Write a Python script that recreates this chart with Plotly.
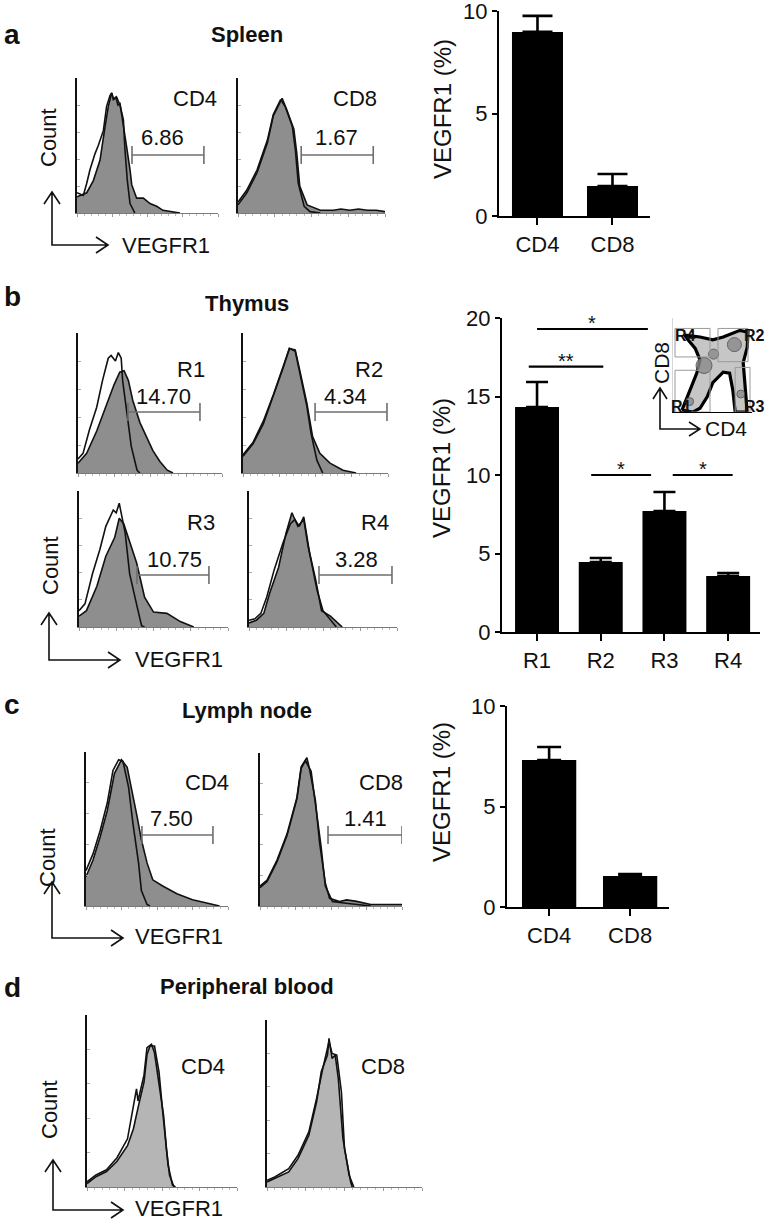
import plotly.graph_objects as go

W, H = 770, 1230
FONT = "Liberation Sans, Arial, Helvetica, sans-serif"
INK = "#111111"
FILL_DARK = "#8e8e8e"
FILL_LIGHT = "#b5b5b5"

# ---------------- bar chart data ----------------
spleen_cats = ["CD4", "CD8"]
spleen_vals = [8.98, 1.46]
spleen_err = [0.78, 0.59]

thymus_cats = ["R1", "R2", "R3", "R4"]
thymus_vals = [14.33, 4.46, 7.71, 3.57]
thymus_err = [1.59, 0.25, 1.21, 0.19]

ln_cats = ["CD4", "CD8"]
ln_vals = [7.31, 1.54]
ln_err = [0.65, 0.10]

# significance brackets on the thymus chart (category-index units)
sig_x0 = [0.0, -0.13, 0.85, 2.13]
sig_x1 = [1.74, 1.04, 1.79, 3.07]
sig_y = [19.3, 16.9, 10.0, 10.0]
sig_text = ["*", "**", "*", "*"]

# ---------------- histogram data (channel 0-100, count 0-100) ----------------
spl_cd4_xs = [0, 6.9, 11.6, 16.3, 19.9, 22.2, 24.6, 26, 27.5, 29, 30.5, 32.4, 35.2, 37.6, 38.8, 42.3, 47, 51.8, 56.5, 61, 66, 73]
spl_cd4_ys = [12, 15, 24, 39, 64, 79, 89, 84, 86, 80, 81, 69, 49, 32, 21, 11, 11, 7, 5, 2, 1, 0]
spl_cd4_xc = [0, 4.5, 6.9, 9.2, 12.8, 15.1, 18.7, 21, 23.4, 24.6, 25.8, 28, 30.5, 32.9, 34, 35.7, 37.6, 41]
spl_cd4_yc = [15, 13, 22, 32, 44, 50, 61, 79, 87, 89, 84, 86, 80, 69, 47, 24, 7, 0]

spl_cd8_xs = [0, 6, 13, 20, 24, 28, 30, 33, 38, 40, 42, 47, 51, 56, 65, 70, 76, 82, 88, 94, 100]
spl_cd8_ys = [6, 15, 30, 52, 72, 81, 85, 77, 62, 44, 20, 6, 4, 2, 2, 3, 2, 3, 2, 2, 1]
spl_cd8_xc = [0, 6, 13, 20, 24, 29, 32, 37, 39, 41, 45, 49, 56]
spl_cd8_yc = [8, 17, 32, 54, 73, 84, 79, 64, 47, 22, 5, 1, 0]

thy_r1_xs = [0, 6, 13, 20, 25, 29, 32, 35, 38, 43, 48, 52, 57, 62, 66]
thy_r1_ys = [7, 14, 30, 50, 63, 72, 73, 66, 52, 36, 25, 16, 8, 2, 0]
thy_r1_xc = [0, 3.5, 8, 13, 17, 21, 23, 26, 28, 30, 31, 34, 37, 41, 43]
thy_r1_yc = [10, 14, 31, 47, 66, 82, 84, 80, 86, 82, 66, 43, 19, 2, 0]

thy_r2_xs = [0, 7, 14, 21, 28, 32, 36, 39, 44, 48, 53, 60, 69, 78]
thy_r2_ys = [12, 21, 35, 55, 76, 89, 88, 74, 50, 26, 14, 7, 2, 0]
thy_r2_xc = [0, 7, 14, 21, 28, 32, 36, 39, 44, 47, 51, 55]
thy_r2_yc = [13, 22, 37, 56, 77, 89, 87, 72, 48, 28, 9, 0]

thy_r3_xs = [0, 5, 12, 18, 24, 27, 30, 33, 38.7, 44, 50, 59, 68, 77]
thy_r3_ys = [8, 12, 30, 52, 66, 80, 76, 66, 47, 22, 11, 10, 4, 0]
thy_r3_xc = [0, 4, 9, 14, 18, 23, 25, 27, 31, 34, 39, 42, 44]
thy_r3_yc = [12, 17, 39, 57, 74, 86, 84, 91, 69, 39, 15, 1, 0]

thy_r4_xs = [0, 5, 10, 14, 20, 25, 29, 33, 37, 40, 45, 49, 55, 60, 63]
thy_r4_ys = [3, 5, 10, 25, 44, 69, 84, 74, 79, 59, 35, 12, 8, 3, 0]
thy_r4_xc = [0, 4, 8, 12, 17, 23, 28, 31, 34, 37, 41, 46, 50, 57, 59]
thy_r4_yc = [5, 6, 10, 22, 42, 62, 76, 79, 74, 81, 54, 27, 12, 3, 0]

ln_cd4_xs = [0, 5, 10, 15, 20, 25, 29, 32, 36, 39, 43, 47, 54, 64, 75, 85, 94]
ln_cd4_ys = [19, 30, 45, 62, 86, 95, 90, 77, 58, 43, 28, 17, 13, 8, 4, 2, 0]
ln_cd4_xc = [0, 5, 10, 15, 19, 23, 26, 30, 33, 37, 39, 43, 45]
ln_cd4_yc = [23, 34, 49, 67, 88, 95, 94, 77, 54, 28, 10, 1, 0]

ln_cd8_xs = [0, 5, 12, 19, 26, 29, 33, 35, 39, 42, 46, 49, 56, 61, 68, 78, 87, 100]
ln_cd8_ys = [13, 17, 30, 47, 71, 91, 97, 89, 69, 41, 15, 5, 3, 4, 3, 1, 1, 1]
ln_cd8_xc = [0, 5, 12, 19, 26, 29, 32, 36, 39, 43, 46, 51, 59, 68, 78]
ln_cd8_yc = [12, 16, 29, 46, 70, 90, 95, 88, 67, 39, 13, 3, 2, 1, 0]

pb_cd4_xs = [0, 6, 13, 20, 27, 31, 34, 38, 40, 42, 45, 48, 50, 52, 54, 57, 59]
pb_cd4_ys = [2, 6, 9, 15, 24, 34, 46, 61, 77, 82, 82, 67, 48, 28, 13, 1, 0]
pb_cd4_xc = [0, 6, 13, 20, 27, 31, 33, 34, 38, 40, 43, 45, 48, 51, 53, 55, 58]
pb_cd4_yc = [3, 7, 10, 17, 28, 48, 57, 50, 65, 81, 83, 78, 61, 42, 22, 7, 0]

pb_cd8_xs = [0, 5, 14, 20, 27, 32, 35, 39, 40, 42, 44, 46, 49, 53, 56]
pb_cd8_ys = [3, 5, 9, 17, 31, 51, 69, 79, 89, 77, 79, 65, 29, 7, 0]
pb_cd8_xc = [0, 5, 14, 20, 27, 32, 36, 40, 42, 45, 48, 50, 54, 55]
pb_cd8_yc = [4, 6, 11, 19, 33, 53, 71, 87, 80, 79, 57, 23, 3, 0]

# gate statistics (label, low, high in channel units)
gate_text = ["6.86", "1.67", "14.70", "4.34", "10.75", "3.28", "7.50", "1.41"]
gate_lo = [39, 43, 34.7, 49.7, 38.9, 47.3, 39.4, 47.9]
gate_hi = [90, 92, 84.7, 99.3, 87.2, 96.6, 89.4, 100]

# inset CD4/CD8 contour outline, dense spots and gate boxes (0-100 units)
inset_u = [12.5, 22.5, 31, 35, 29, 20, 16, 35, 51, 64, 85, 95, 94, 89, 91, 94, 94, 79, 76, 72, 64, 51, 44, 35, 26, 12.5]
inset_v = [3, 24, 42, 56, 68, 77, 82, 80, 77, 80, 87, 85, 69, 53, 32, 11, 1, 1, 24, 42, 43, 32, 17, 5, 1, 3]
inset_spot_u = [78, 40, 52, 86, 22]
inset_spot_v = [72, 50, 62, 20, 12]
inset_spot_size = [14, 16, 10, 8, 8]
inset_gate_u0 = [3.75, 57.5, 3.75, 79]
inset_gate_u1 = [47.5, 95, 47.5, 97.5]
inset_gate_v0 = [59, 54, 1, 1]
inset_gate_v1 = [89, 89, 45, 48]

# ---------------------------------------------------------------
fig = go.Figure()
layout = {}
shapes = []
annotations = []


def axn(n):
    return ("x" if n == 1 else f"x{n}"), ("y" if n == 1 else f"y{n}")


def keyn(n):
    return ("xaxis" if n == 1 else f"xaxis{n}"), ("yaxis" if n == 1 else f"yaxis{n}")


def px(x):
    return x / W


def py(y):
    return 1 - y / H


def add_hist(n, box, xs, ys, xc, yc, fill, label, lab_uv, gate_i=None, gate_v=None, text_uv=None):
    xr, yr = axn(n)
    kx, ky = keyn(n)
    fig.add_trace(go.Scatter(x=xs, y=ys, xaxis=xr, yaxis=yr, mode="lines", fill="tozeroy",
                             fillcolor=fill, line=dict(color=INK, width=1.6),
                             hoverinfo="skip", showlegend=False))
    fig.add_trace(go.Scatter(x=xc, y=yc, xaxis=xr, yaxis=yr, mode="lines",
                             line=dict(color=INK, width=1.6),
                             hoverinfo="skip", showlegend=False))
    x0, x1, t, b = box
    layout[kx] = dict(domain=[px(x0), px(x1)], range=[0, 100], anchor=yr, automargin=False,
                      showline=True, linecolor="#7a7a7a", linewidth=1.2,
                      ticks="outside", ticklen=3, tickcolor="#9a9a9a", tickwidth=1, dtick=25,
                      minor=dict(dtick=5, ticklen=2, tickcolor="#bbbbbb", ticks="outside"),
                      showticklabels=False, showgrid=False, zeroline=False, fixedrange=True)
    layout[ky] = dict(domain=[py(b), py(t)], range=[0, 100], anchor=xr, automargin=False,
                      showline=True, linecolor=INK, linewidth=2.5,
                      ticks="inside", ticklen=3, tickcolor="#aaaaaa", dtick=20,
                      showticklabels=False, showgrid=False, zeroline=False, fixedrange=True)
    annotations.append(dict(xref=xr, yref=yr, x=lab_uv[0], y=lab_uv[1], text=label,
                            showarrow=False, font=dict(family=FONT, size=22, color=INK),
                            xanchor="center", yanchor="middle"))
    if gate_i is not None:
        lo, hi = gate_lo[gate_i], gate_hi[gate_i]
        gc = "#6e6e6e"
        shapes.append(dict(type="line", xref=xr, yref=yr, x0=lo, x1=hi, y0=gate_v, y1=gate_v,
                           line=dict(color=gc, width=1.6)))
        for xx in (lo, hi):
            shapes.append(dict(type="line", xref=xr, yref=yr, x0=xx, x1=xx,
                               ysizemode="pixel", yanchor=gate_v, y0=-9, y1=9,
                               line=dict(color=gc, width=1.6)))
        annotations.append(dict(xref=xr, yref=yr, x=text_uv[0], y=text_uv[1], text=gate_text[gate_i],
                                showarrow=False, font=dict(family=FONT, size=22, color=INK),
                                xanchor="center", yanchor="middle"))


def add_bar(n, box, cats, vals, err, ymax, dtick, xrange, bw, cap):
    xr, yr = axn(n)
    kx, ky = keyn(n)
    fig.add_trace(go.Bar(x=cats, y=vals, xaxis=xr, yaxis=yr, width=bw,
                         marker=dict(color="#000000", line=dict(width=0)),
                         error_y=dict(type="data", array=err, arrayminus=[0] * len(err),
                                      symmetric=False, color="#000000", thickness=2.6, width=cap),
                         hoverinfo="skip", showlegend=False))
    x0, x1, t, b = box
    layout[kx] = dict(domain=[px(x0), px(x1)], range=xrange, anchor=yr, type="category",
                      automargin=False, ticklabeloverflow="allow",
                      showline=True, linecolor="#000000", linewidth=2.2,
                      ticks="outside", ticklen=7, tickwidth=2, tickcolor="#000000",
                      tickfont=dict(family=FONT, size=22, color=INK),
                      showgrid=False, zeroline=False, fixedrange=True)
    layout[ky] = dict(domain=[py(b), py(t)], range=[0, ymax], anchor=xr, dtick=dtick,
                      automargin=False, ticklabeloverflow="allow",
                      showline=True, linecolor="#000000", linewidth=2.2,
                      ticks="outside", ticklen=5, tickwidth=2, tickcolor="#000000",
                      tickfont=dict(family=FONT, size=22, color=INK),
                      showgrid=False, zeroline=False, fixedrange=True)


# ----- panel a -----
add_hist(1, (77, 218, 78, 213), spl_cd4_xs, spl_cd4_ys, spl_cd4_xc, spl_cd4_yc, FILL_DARK,
         "CD4", (83.7, 85), 0, 43, (60.3, 56))
add_hist(2, (238, 385, 78, 213), spl_cd8_xs, spl_cd8_ys, spl_cd8_xc, spl_cd8_yc, FILL_DARK,
         "CD8", (79.6, 85), 1, 43, (67.3, 56))
add_bar(3, (499, 650, 11, 216), spleen_cats, spleen_vals, spleen_err, 10, 5, [-0.513, 1.5], 0.68, 15)

# ----- panel b -----
add_hist(4, (78, 222, 333, 473), thy_r1_xs, thy_r1_ys, thy_r1_xc, thy_r1_yc, FILL_DARK,
         "R1", (78.5, 73.6), 2, 43.6, (59.7, 54.3))
add_hist(5, (243, 388, 333, 473), thy_r2_xs, thy_r2_ys, thy_r2_xc, thy_r2_yc, FILL_DARK,
         "R2", (86.9, 73.6), 3, 43.6, (71, 54.3))
add_hist(6, (79, 228, 491, 627), thy_r3_xs, thy_r3_ys, thy_r3_xc, thy_r3_yc, FILL_DARK,
         "R3", (81.9, 77.2), 4, 38.2, (63.8, 50))
add_hist(7, (249, 397, 491, 627), thy_r4_xs, thy_r4_ys, thy_r4_xc, thy_r4_yc, FILL_DARK,
         "R4", (85.1, 77.2), 5, 38.2, (72.3, 50))
add_bar(8, (502, 760, 318, 632), thymus_cats, thymus_vals, thymus_err, 20, 5, [-0.55, 3.5], 0.69, 11)

for i in range(len(sig_text)):
    shapes.append(dict(type="line", xref="x8", yref="y8", x0=sig_x0[i], x1=sig_x1[i],
                       y0=sig_y[i], y1=sig_y[i], line=dict(color="#000000", width=2.2)))
    annotations.append(dict(xref="x8", yref="y8", x=(sig_x0[i] + sig_x1[i]) / 2, y=sig_y[i],
                            text=sig_text[i], showarrow=False, yshift=6,
                            font=dict(family=FONT, size=20, color=INK),
                            xanchor="center", yanchor="middle"))

# inset
fig.add_trace(go.Scatter(x=inset_u, y=inset_v, xaxis="x9", yaxis="y9", mode="lines",
                         fill="toself", fillcolor="#c6c6c6", line=dict(color="#000000", width=3.2),
                         hoverinfo="skip", showlegend=False))
fig.add_trace(go.Scatter(x=inset_spot_u, y=inset_spot_v, xaxis="x9", yaxis="y9", mode="markers",
                         marker=dict(size=inset_spot_size, color="#8a8a8a", opacity=0.8,
                                     line=dict(color="#4a4a4a", width=1)),
                         hoverinfo="skip", showlegend=False))
layout["xaxis9"] = dict(domain=[px(672), px(752)], range=[0, 100], anchor="y9", visible=False, fixedrange=True)
layout["yaxis9"] = dict(domain=[py(413), py(318)], range=[0, 100], anchor="x9", visible=False, fixedrange=True)
for i in range(len(inset_gate_u0)):
    shapes.append(dict(type="rect", xref="x9", yref="y9", x0=inset_gate_u0[i], x1=inset_gate_u1[i],
                       y0=inset_gate_v0[i], y1=inset_gate_v1[i], line=dict(color="#9a9a9a", width=1),
                       layer="above"))
shapes.append(dict(type="line", xref="x9", yref="y9", x0=0, x1=0, y0=0, y1=100,
                   line=dict(color="#b0b0b0", width=1)))
shapes.append(dict(type="line", xref="x9", yref="y9", x0=0, x1=100, y0=0, y1=0,
                   line=dict(color="#000000", width=2)))
for txt, xx, yy in [("R4", 685, 335), ("R2", 754, 335), ("R1", 681, 407), ("R3", 754, 407)]:
    annotations.append(dict(xref="paper", yref="paper", x=px(xx), y=py(yy), text=f"<b>{txt}</b>",
                            showarrow=False, font=dict(family=FONT, size=16, color=INK),
                            xanchor="center", yanchor="middle"))

# ----- panel c -----
add_hist(10, (86, 228, 752, 906), ln_cd4_xs, ln_cd4_ys, ln_cd4_xc, ln_cd4_yc, FILL_DARK,
         "CD4", (85.2, 80.5), 6, 46.1, (59.9, 57.1))
add_hist(11, (260, 402, 753, 906), ln_cd8_xs, ln_cd8_ys, ln_cd8_xc, ln_cd8_yc, FILL_DARK,
         "CD8", (85.2, 81), 7, 46.4, (74.6, 57.5))
add_bar(12, (507, 669, 706, 907), ln_cats, ln_vals, ln_err, 10, 5, [-0.52, 1.48], 0.67, 12)

# ----- panel d -----
add_hist(13, (87, 237, 1015, 1187), pb_cd4_xs, pb_cd4_ys, pb_cd4_xc, pb_cd4_yc, FILL_LIGHT,
         "CD4", (77.3, 69.8))
add_hist(14, (267, 422, 1020, 1187), pb_cd8_xs, pb_cd8_ys, pb_cd8_xc, pb_cd8_yc, FILL_LIGHT,
         "CD8", (74.8, 71.9))


# ----- free text -----
def text(t, x, y, size=22, bold=False, angle=0, xanchor="center"):
    annotations.append(dict(xref="paper", yref="paper", x=px(x), y=py(y),
                            text=f"<b>{t}</b>" if bold else t, showarrow=False, textangle=angle,
                            font=dict(family=FONT, size=size, color=INK),
                            xanchor=xanchor, yanchor="middle"))


for t, y in [("a", 35), ("b", 296), ("c", 704), ("d", 987)]:
    text(t, 2, y, size=28, bold=True, xanchor="left")
for t, y in [("Spleen", 35), ("Thymus", 303), ("Lymph node", 710), ("Peripheral blood", 986)]:
    text(t, 247, y, size=22, bold=True)
for x, y in [(48, 138), (50, 565), (48, 858), (49, 1109)]:
    text("Count", x, y, angle=-90)
for x, y in [(120, 245), (133, 659), (133, 936), (133, 1208)]:
    text("VEGFR1", x, y, xanchor="left")
for x, y in [(442, 109), (441, 468), (441, 792)]:
    text("VEGFR1 (%)", x, y, size=24, angle=-90)
text("CD8", 661, 363, size=21, angle=-90)
text("CD4", 703, 429, size=21, xanchor="left")


# ----- axis arrows (paper space) -----
def arrow_corner(x, y_tip, y_corner, x_tip, head=12, half=8, width=1.6):
    p = (f"M {px(x)},{py(y_tip)} L {px(x)},{py(y_corner)} L {px(x_tip)},{py(y_corner)} "
         f"M {px(x - half)},{py(y_tip + head)} L {px(x)},{py(y_tip)} L {px(x + half)},{py(y_tip + head)} "
         f"M {px(x_tip - head)},{py(y_corner - half)} L {px(x_tip)},{py(y_corner)} L {px(x_tip - head)},{py(y_corner + half)}")
    shapes.append(dict(type="path", xref="paper", yref="paper", path=p,
                       line=dict(color=INK, width=width)))


arrow_corner(52, 192, 245, 108)
arrow_corner(49, 613, 660, 120)
arrow_corner(52, 882, 938, 123)
arrow_corner(53, 1160, 1210, 123)
arrow_corner(660, 388, 429, 700, head=11, half=7)

fig.update_layout(
    width=W, height=H,
    margin=dict(l=0, r=0, t=0, b=0, pad=0, autoexpand=False),
    paper_bgcolor="white", plot_bgcolor="rgba(0,0,0,0)",
    font=dict(family=FONT, color=INK),
    shapes=shapes, annotations=annotations,
    bargap=0.3, showlegend=False,
    **layout,
)

fig.write_html("out.html", config={"displayModeBar": False, "staticPlot": True},
               post_script="document.body.style.margin='0px';document.body.style.overflow='hidden';")
